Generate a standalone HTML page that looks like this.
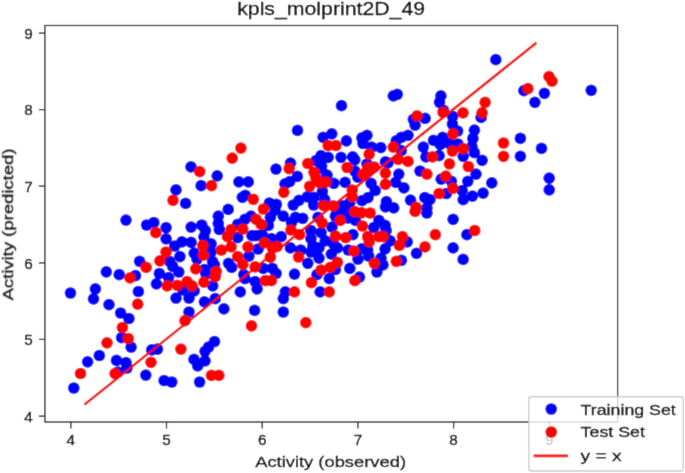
<!DOCTYPE html>
<html><head><meta charset="utf-8">
<style>
html,body{margin:0;padding:0;background:#fff;width:685px;height:473px;overflow:hidden}
svg{display:block}
text{font-family:"Liberation Sans",sans-serif;fill:#000;stroke:#000;stroke-width:0.3px}
svg{will-change:transform}
</style></head>
<body>
<svg width="685" height="473" viewBox="0 0 685 473">
<defs><filter id="sb" filterUnits="userSpaceOnUse" x="0" y="0" width="685" height="473"><feConvolveMatrix order="3" kernelMatrix="1 7.4 1 7.4 54.6 7.4 1 7.4 1" divisor="88.2" edgeMode="duplicate" preserveAlpha="true"/></filter></defs>
<g filter="url(#sb)">
<rect x="0" y="0" width="685" height="473" fill="#fff"/>
<g id="dots">
<circle cx="341.5" cy="105.7" r="5.85" fill="#0000ff"/>
<circle cx="393.3" cy="95.9" r="5.85" fill="#0000ff"/>
<circle cx="397.3" cy="94.3" r="5.85" fill="#0000ff"/>
<circle cx="440.9" cy="95.9" r="5.85" fill="#0000ff"/>
<circle cx="439.5" cy="102.3" r="5.85" fill="#0000ff"/>
<circle cx="443.5" cy="110.4" r="5.85" fill="#0000ff"/>
<circle cx="452.6" cy="116.4" r="5.85" fill="#0000ff"/>
<circle cx="413.4" cy="119.4" r="5.85" fill="#0000ff"/>
<circle cx="425.1" cy="118.4" r="5.85" fill="#0000ff"/>
<circle cx="495.8" cy="59.7" r="5.85" fill="#0000ff"/>
<circle cx="523.9" cy="90.7" r="5.85" fill="#0000ff"/>
<circle cx="544.4" cy="93.3" r="5.85" fill="#0000ff"/>
<circle cx="534.9" cy="102.3" r="5.85" fill="#0000ff"/>
<circle cx="591.2" cy="90.3" r="5.85" fill="#0000ff"/>
<circle cx="481.1" cy="117.4" r="5.85" fill="#0000ff"/>
<circle cx="176.0" cy="189.9" r="5.85" fill="#0000ff"/>
<circle cx="297.5" cy="130.4" r="5.85" fill="#0000ff"/>
<circle cx="191.0" cy="166.8" r="5.85" fill="#0000ff"/>
<circle cx="217.2" cy="175.8" r="5.85" fill="#0000ff"/>
<circle cx="201.1" cy="185.7" r="5.85" fill="#0000ff"/>
<circle cx="238.9" cy="181.9" r="5.85" fill="#0000ff"/>
<circle cx="248.3" cy="181.9" r="5.85" fill="#0000ff"/>
<circle cx="276.0" cy="169.2" r="5.85" fill="#0000ff"/>
<circle cx="290.5" cy="163.2" r="5.85" fill="#0000ff"/>
<circle cx="242.3" cy="197.3" r="5.85" fill="#0000ff"/>
<circle cx="245.3" cy="195.3" r="5.85" fill="#0000ff"/>
<circle cx="185.6" cy="203.4" r="5.85" fill="#0000ff"/>
<circle cx="228.2" cy="209.4" r="5.85" fill="#0000ff"/>
<circle cx="269.4" cy="203.0" r="5.85" fill="#0000ff"/>
<circle cx="276.4" cy="204.4" r="5.85" fill="#0000ff"/>
<circle cx="297.3" cy="176.4" r="5.85" fill="#0000ff"/>
<circle cx="289.7" cy="181.6" r="5.85" fill="#0000ff"/>
<circle cx="285.0" cy="183.9" r="5.85" fill="#0000ff"/>
<circle cx="321.2" cy="168.2" r="5.85" fill="#0000ff"/>
<circle cx="327.0" cy="175.2" r="5.85" fill="#0000ff"/>
<circle cx="322.4" cy="191.5" r="5.85" fill="#0000ff"/>
<circle cx="324.7" cy="199.7" r="5.85" fill="#0000ff"/>
<circle cx="293.2" cy="205.0" r="5.85" fill="#0000ff"/>
<circle cx="299.0" cy="200.3" r="5.85" fill="#0000ff"/>
<circle cx="307.2" cy="196.8" r="5.85" fill="#0000ff"/>
<circle cx="313.6" cy="197.4" r="5.85" fill="#0000ff"/>
<circle cx="313.6" cy="205.0" r="5.85" fill="#0000ff"/>
<circle cx="275.1" cy="210.2" r="5.85" fill="#0000ff"/>
<circle cx="316.0" cy="160.5" r="5.85" fill="#0000ff"/>
<circle cx="331.8" cy="133.8" r="5.85" fill="#0000ff"/>
<circle cx="323.1" cy="137.3" r="5.85" fill="#0000ff"/>
<circle cx="346.4" cy="140.9" r="5.85" fill="#0000ff"/>
<circle cx="367.0" cy="135.3" r="5.85" fill="#0000ff"/>
<circle cx="361.9" cy="137.9" r="5.85" fill="#0000ff"/>
<circle cx="363.0" cy="143.5" r="5.85" fill="#0000ff"/>
<circle cx="371.6" cy="147.1" r="5.85" fill="#0000ff"/>
<circle cx="380.8" cy="147.6" r="5.85" fill="#0000ff"/>
<circle cx="321.0" cy="155.7" r="5.85" fill="#0000ff"/>
<circle cx="328.2" cy="157.3" r="5.85" fill="#0000ff"/>
<circle cx="341.0" cy="157.3" r="5.85" fill="#0000ff"/>
<circle cx="352.7" cy="156.8" r="5.85" fill="#0000ff"/>
<circle cx="354.8" cy="159.8" r="5.85" fill="#0000ff"/>
<circle cx="321.6" cy="166.0" r="5.85" fill="#0000ff"/>
<circle cx="367.0" cy="164.0" r="5.85" fill="#0000ff"/>
<circle cx="385.4" cy="161.9" r="5.85" fill="#0000ff"/>
<circle cx="415.1" cy="125.1" r="5.85" fill="#0000ff"/>
<circle cx="408.0" cy="135.3" r="5.85" fill="#0000ff"/>
<circle cx="401.3" cy="137.3" r="5.85" fill="#0000ff"/>
<circle cx="396.2" cy="140.9" r="5.85" fill="#0000ff"/>
<circle cx="401.3" cy="150.6" r="5.85" fill="#0000ff"/>
<circle cx="388.0" cy="162.9" r="5.85" fill="#0000ff"/>
<circle cx="423.3" cy="147.1" r="5.85" fill="#0000ff"/>
<circle cx="433.5" cy="140.4" r="5.85" fill="#0000ff"/>
<circle cx="442.7" cy="137.3" r="5.85" fill="#0000ff"/>
<circle cx="440.2" cy="144.5" r="5.85" fill="#0000ff"/>
<circle cx="425.9" cy="156.8" r="5.85" fill="#0000ff"/>
<circle cx="439.1" cy="155.7" r="5.85" fill="#0000ff"/>
<circle cx="452.4" cy="124.0" r="5.85" fill="#0000ff"/>
<circle cx="449.4" cy="143.5" r="5.85" fill="#0000ff"/>
<circle cx="333.8" cy="183.3" r="5.85" fill="#0000ff"/>
<circle cx="345.1" cy="182.3" r="5.85" fill="#0000ff"/>
<circle cx="354.8" cy="171.0" r="5.85" fill="#0000ff"/>
<circle cx="357.8" cy="177.2" r="5.85" fill="#0000ff"/>
<circle cx="371.1" cy="183.3" r="5.85" fill="#0000ff"/>
<circle cx="375.2" cy="190.5" r="5.85" fill="#0000ff"/>
<circle cx="368.0" cy="197.6" r="5.85" fill="#0000ff"/>
<circle cx="362.0" cy="200.7" r="5.85" fill="#0000ff"/>
<circle cx="386.4" cy="201.7" r="5.85" fill="#0000ff"/>
<circle cx="385.4" cy="206.8" r="5.85" fill="#0000ff"/>
<circle cx="342.5" cy="205.8" r="5.85" fill="#0000ff"/>
<circle cx="349.7" cy="202.7" r="5.85" fill="#0000ff"/>
<circle cx="336.4" cy="214.0" r="5.85" fill="#0000ff"/>
<circle cx="345.6" cy="212.0" r="5.85" fill="#0000ff"/>
<circle cx="398.8" cy="174.1" r="5.85" fill="#0000ff"/>
<circle cx="395.7" cy="182.3" r="5.85" fill="#0000ff"/>
<circle cx="403.9" cy="187.9" r="5.85" fill="#0000ff"/>
<circle cx="420.0" cy="171.0" r="5.85" fill="#0000ff"/>
<circle cx="441.2" cy="179.2" r="5.85" fill="#0000ff"/>
<circle cx="451.4" cy="181.3" r="5.85" fill="#0000ff"/>
<circle cx="446.3" cy="193.5" r="5.85" fill="#0000ff"/>
<circle cx="393.7" cy="207.9" r="5.85" fill="#0000ff"/>
<circle cx="410.5" cy="200.2" r="5.85" fill="#0000ff"/>
<circle cx="424.8" cy="197.6" r="5.85" fill="#0000ff"/>
<circle cx="429.9" cy="199.7" r="5.85" fill="#0000ff"/>
<circle cx="426.9" cy="207.9" r="5.85" fill="#0000ff"/>
<circle cx="426.9" cy="213.0" r="5.85" fill="#0000ff"/>
<circle cx="474.4" cy="130.2" r="5.85" fill="#0000ff"/>
<circle cx="472.9" cy="138.4" r="5.85" fill="#0000ff"/>
<circle cx="458.0" cy="144.0" r="5.85" fill="#0000ff"/>
<circle cx="471.9" cy="146.5" r="5.85" fill="#0000ff"/>
<circle cx="474.4" cy="152.7" r="5.85" fill="#0000ff"/>
<circle cx="463.2" cy="156.3" r="5.85" fill="#0000ff"/>
<circle cx="482.1" cy="160.3" r="5.85" fill="#0000ff"/>
<circle cx="520.4" cy="138.4" r="5.85" fill="#0000ff"/>
<circle cx="520.4" cy="156.3" r="5.85" fill="#0000ff"/>
<circle cx="541.5" cy="148.4" r="5.85" fill="#0000ff"/>
<circle cx="476.0" cy="174.2" r="5.85" fill="#0000ff"/>
<circle cx="467.8" cy="181.3" r="5.85" fill="#0000ff"/>
<circle cx="491.8" cy="182.9" r="5.85" fill="#0000ff"/>
<circle cx="462.2" cy="190.5" r="5.85" fill="#0000ff"/>
<circle cx="472.4" cy="196.1" r="5.85" fill="#0000ff"/>
<circle cx="463.2" cy="199.7" r="5.85" fill="#0000ff"/>
<circle cx="483.1" cy="193.1" r="5.85" fill="#0000ff"/>
<circle cx="549.2" cy="178.2" r="5.85" fill="#0000ff"/>
<circle cx="549.2" cy="189.9" r="5.85" fill="#0000ff"/>
<circle cx="126.0" cy="220.1" r="5.85" fill="#0000ff"/>
<circle cx="139.6" cy="261.3" r="5.85" fill="#0000ff"/>
<circle cx="146.6" cy="225.0" r="5.85" fill="#0000ff"/>
<circle cx="153.8" cy="222.5" r="5.85" fill="#0000ff"/>
<circle cx="166.1" cy="227.6" r="5.85" fill="#0000ff"/>
<circle cx="166.1" cy="238.8" r="5.85" fill="#0000ff"/>
<circle cx="191.1" cy="227.1" r="5.85" fill="#0000ff"/>
<circle cx="201.8" cy="225.0" r="5.85" fill="#0000ff"/>
<circle cx="205.4" cy="230.7" r="5.85" fill="#0000ff"/>
<circle cx="203.9" cy="236.8" r="5.85" fill="#0000ff"/>
<circle cx="174.7" cy="246.0" r="5.85" fill="#0000ff"/>
<circle cx="181.9" cy="241.9" r="5.85" fill="#0000ff"/>
<circle cx="191.1" cy="242.4" r="5.85" fill="#0000ff"/>
<circle cx="218.3" cy="216.2" r="5.85" fill="#0000ff"/>
<circle cx="218.3" cy="223.4" r="5.85" fill="#0000ff"/>
<circle cx="219.3" cy="229.5" r="5.85" fill="#0000ff"/>
<circle cx="237.7" cy="237.7" r="5.85" fill="#0000ff"/>
<circle cx="237.7" cy="224.4" r="5.85" fill="#0000ff"/>
<circle cx="244.9" cy="219.3" r="5.85" fill="#0000ff"/>
<circle cx="251.0" cy="216.2" r="5.85" fill="#0000ff"/>
<circle cx="268.4" cy="225.4" r="5.85" fill="#0000ff"/>
<circle cx="270.4" cy="217.3" r="5.85" fill="#0000ff"/>
<circle cx="256.1" cy="235.7" r="5.85" fill="#0000ff"/>
<circle cx="252.0" cy="235.7" r="5.85" fill="#0000ff"/>
<circle cx="262.2" cy="234.6" r="5.85" fill="#0000ff"/>
<circle cx="271.4" cy="238.7" r="5.85" fill="#0000ff"/>
<circle cx="211.1" cy="243.8" r="5.85" fill="#0000ff"/>
<circle cx="258.1" cy="249.0" r="5.85" fill="#0000ff"/>
<circle cx="283.3" cy="216.2" r="5.85" fill="#0000ff"/>
<circle cx="295.5" cy="217.3" r="5.85" fill="#0000ff"/>
<circle cx="302.7" cy="218.3" r="5.85" fill="#0000ff"/>
<circle cx="318.0" cy="217.3" r="5.85" fill="#0000ff"/>
<circle cx="335.4" cy="216.2" r="5.85" fill="#0000ff"/>
<circle cx="291.5" cy="222.4" r="5.85" fill="#0000ff"/>
<circle cx="310.9" cy="230.5" r="5.85" fill="#0000ff"/>
<circle cx="310.9" cy="238.7" r="5.85" fill="#0000ff"/>
<circle cx="321.1" cy="232.6" r="5.85" fill="#0000ff"/>
<circle cx="325.2" cy="240.8" r="5.85" fill="#0000ff"/>
<circle cx="333.4" cy="243.8" r="5.85" fill="#0000ff"/>
<circle cx="281.2" cy="236.7" r="5.85" fill="#0000ff"/>
<circle cx="290.4" cy="247.9" r="5.85" fill="#0000ff"/>
<circle cx="300.7" cy="250.0" r="5.85" fill="#0000ff"/>
<circle cx="312.9" cy="245.9" r="5.85" fill="#0000ff"/>
<circle cx="319.0" cy="247.9" r="5.85" fill="#0000ff"/>
<circle cx="337.4" cy="247.9" r="5.85" fill="#0000ff"/>
<circle cx="348.0" cy="218.0" r="5.85" fill="#0000ff"/>
<circle cx="355.4" cy="220.3" r="5.85" fill="#0000ff"/>
<circle cx="378.9" cy="220.3" r="5.85" fill="#0000ff"/>
<circle cx="385.1" cy="225.4" r="5.85" fill="#0000ff"/>
<circle cx="373.8" cy="227.5" r="5.85" fill="#0000ff"/>
<circle cx="386.1" cy="230.5" r="5.85" fill="#0000ff"/>
<circle cx="352.9" cy="234.6" r="5.85" fill="#0000ff"/>
<circle cx="390.2" cy="240.8" r="5.85" fill="#0000ff"/>
<circle cx="348.3" cy="250.0" r="5.85" fill="#0000ff"/>
<circle cx="361.6" cy="248.9" r="5.85" fill="#0000ff"/>
<circle cx="367.7" cy="250.0" r="5.85" fill="#0000ff"/>
<circle cx="385.1" cy="248.9" r="5.85" fill="#0000ff"/>
<circle cx="453.1" cy="219.3" r="5.85" fill="#0000ff"/>
<circle cx="407.2" cy="241.8" r="5.85" fill="#0000ff"/>
<circle cx="416.5" cy="253.3" r="5.85" fill="#0000ff"/>
<circle cx="453.1" cy="247.9" r="5.85" fill="#0000ff"/>
<circle cx="466.9" cy="234.6" r="5.85" fill="#0000ff"/>
<circle cx="106.3" cy="271.8" r="5.85" fill="#0000ff"/>
<circle cx="119.2" cy="274.7" r="5.85" fill="#0000ff"/>
<circle cx="135.5" cy="275.7" r="5.85" fill="#0000ff"/>
<circle cx="70.5" cy="293.0" r="5.85" fill="#0000ff"/>
<circle cx="95.4" cy="288.9" r="5.85" fill="#0000ff"/>
<circle cx="93.5" cy="298.8" r="5.85" fill="#0000ff"/>
<circle cx="109.0" cy="304.6" r="5.85" fill="#0000ff"/>
<circle cx="138.4" cy="291.5" r="5.85" fill="#0000ff"/>
<circle cx="120.6" cy="313.0" r="5.85" fill="#0000ff"/>
<circle cx="179.9" cy="256.7" r="5.85" fill="#0000ff"/>
<circle cx="169.6" cy="261.3" r="5.85" fill="#0000ff"/>
<circle cx="172.7" cy="266.4" r="5.85" fill="#0000ff"/>
<circle cx="159.4" cy="273.5" r="5.85" fill="#0000ff"/>
<circle cx="178.8" cy="272.0" r="5.85" fill="#0000ff"/>
<circle cx="156.4" cy="283.8" r="5.85" fill="#0000ff"/>
<circle cx="168.6" cy="277.6" r="5.85" fill="#0000ff"/>
<circle cx="182.9" cy="289.9" r="5.85" fill="#0000ff"/>
<circle cx="194.2" cy="253.1" r="5.85" fill="#0000ff"/>
<circle cx="204.4" cy="269.5" r="5.85" fill="#0000ff"/>
<circle cx="194.2" cy="290.9" r="5.85" fill="#0000ff"/>
<circle cx="211.0" cy="252.0" r="5.85" fill="#0000ff"/>
<circle cx="228.5" cy="263.3" r="5.85" fill="#0000ff"/>
<circle cx="231.6" cy="267.4" r="5.85" fill="#0000ff"/>
<circle cx="248.9" cy="256.2" r="5.85" fill="#0000ff"/>
<circle cx="263.2" cy="268.4" r="5.85" fill="#0000ff"/>
<circle cx="243.8" cy="274.6" r="5.85" fill="#0000ff"/>
<circle cx="244.9" cy="278.7" r="5.85" fill="#0000ff"/>
<circle cx="212.7" cy="285.8" r="5.85" fill="#0000ff"/>
<circle cx="255.1" cy="281.7" r="5.85" fill="#0000ff"/>
<circle cx="257.1" cy="288.9" r="5.85" fill="#0000ff"/>
<circle cx="272.4" cy="268.4" r="5.85" fill="#0000ff"/>
<circle cx="240.3" cy="291.9" r="5.85" fill="#0000ff"/>
<circle cx="307.8" cy="263.3" r="5.85" fill="#0000ff"/>
<circle cx="311.0" cy="252.0" r="5.85" fill="#0000ff"/>
<circle cx="319.0" cy="258.2" r="5.85" fill="#0000ff"/>
<circle cx="331.3" cy="254.1" r="5.85" fill="#0000ff"/>
<circle cx="317.0" cy="274.6" r="5.85" fill="#0000ff"/>
<circle cx="335.4" cy="269.5" r="5.85" fill="#0000ff"/>
<circle cx="329.3" cy="278.7" r="5.85" fill="#0000ff"/>
<circle cx="276.1" cy="273.5" r="5.85" fill="#0000ff"/>
<circle cx="294.5" cy="274.1" r="5.85" fill="#0000ff"/>
<circle cx="285.3" cy="291.9" r="5.85" fill="#0000ff"/>
<circle cx="320.1" cy="291.9" r="5.85" fill="#0000ff"/>
<circle cx="358.0" cy="259.2" r="5.85" fill="#0000ff"/>
<circle cx="368.7" cy="256.0" r="5.85" fill="#0000ff"/>
<circle cx="349.8" cy="268.4" r="5.85" fill="#0000ff"/>
<circle cx="359.5" cy="277.1" r="5.85" fill="#0000ff"/>
<circle cx="381.0" cy="258.2" r="5.85" fill="#0000ff"/>
<circle cx="383.0" cy="264.9" r="5.85" fill="#0000ff"/>
<circle cx="376.9" cy="272.0" r="5.85" fill="#0000ff"/>
<circle cx="401.4" cy="260.3" r="5.85" fill="#0000ff"/>
<circle cx="463.1" cy="259.4" r="5.85" fill="#0000ff"/>
<circle cx="128.9" cy="318.5" r="5.85" fill="#0000ff"/>
<circle cx="121.6" cy="337.7" r="5.85" fill="#0000ff"/>
<circle cx="131.1" cy="347.2" r="5.85" fill="#0000ff"/>
<circle cx="99.3" cy="355.5" r="5.85" fill="#0000ff"/>
<circle cx="87.6" cy="361.8" r="5.85" fill="#0000ff"/>
<circle cx="116.5" cy="360.4" r="5.85" fill="#0000ff"/>
<circle cx="126.0" cy="362.6" r="5.85" fill="#0000ff"/>
<circle cx="118.0" cy="372.0" r="5.85" fill="#0000ff"/>
<circle cx="127.0" cy="368.0" r="5.85" fill="#0000ff"/>
<circle cx="73.8" cy="388.0" r="5.85" fill="#0000ff"/>
<circle cx="176.0" cy="298.2" r="5.85" fill="#0000ff"/>
<circle cx="189.0" cy="298.2" r="5.85" fill="#0000ff"/>
<circle cx="204.4" cy="301.8" r="5.85" fill="#0000ff"/>
<circle cx="189.0" cy="312.0" r="5.85" fill="#0000ff"/>
<circle cx="151.7" cy="349.9" r="5.85" fill="#0000ff"/>
<circle cx="157.5" cy="349.1" r="5.85" fill="#0000ff"/>
<circle cx="145.8" cy="375.1" r="5.85" fill="#0000ff"/>
<circle cx="164.1" cy="380.5" r="5.85" fill="#0000ff"/>
<circle cx="171.8" cy="382.0" r="5.85" fill="#0000ff"/>
<circle cx="214.5" cy="341.5" r="5.85" fill="#0000ff"/>
<circle cx="208.6" cy="347.0" r="5.85" fill="#0000ff"/>
<circle cx="205.0" cy="351.3" r="5.85" fill="#0000ff"/>
<circle cx="194.0" cy="359.4" r="5.85" fill="#0000ff"/>
<circle cx="205.0" cy="360.8" r="5.85" fill="#0000ff"/>
<circle cx="197.7" cy="365.9" r="5.85" fill="#0000ff"/>
<circle cx="199.6" cy="382.0" r="5.85" fill="#0000ff"/>
<circle cx="215.2" cy="298.7" r="5.85" fill="#0000ff"/>
<circle cx="223.9" cy="308.9" r="5.85" fill="#0000ff"/>
<circle cx="254.6" cy="310.4" r="5.85" fill="#0000ff"/>
<circle cx="283.3" cy="298.7" r="5.85" fill="#0000ff"/>
<circle cx="283.3" cy="312.0" r="5.85" fill="#0000ff"/>
<circle cx="212.5" cy="261.5" r="5.85" fill="#0000ff"/>
<circle cx="197.0" cy="259.0" r="5.85" fill="#0000ff"/>
<circle cx="206.0" cy="274.0" r="5.85" fill="#0000ff"/>
<circle cx="214.5" cy="265.0" r="5.85" fill="#0000ff"/>
<circle cx="457.6" cy="131.0" r="5.85" fill="#0000ff"/>
<circle cx="332.0" cy="227.0" r="5.85" fill="#0000ff"/>
<circle cx="443.1" cy="112.4" r="5.85" fill="#ff0000"/>
<circle cx="417.0" cy="115.8" r="5.85" fill="#ff0000"/>
<circle cx="549.0" cy="76.6" r="5.85" fill="#ff0000"/>
<circle cx="552.0" cy="81.2" r="5.85" fill="#ff0000"/>
<circle cx="527.9" cy="88.7" r="5.85" fill="#ff0000"/>
<circle cx="485.1" cy="102.3" r="5.85" fill="#ff0000"/>
<circle cx="482.1" cy="112.8" r="5.85" fill="#ff0000"/>
<circle cx="463.0" cy="112.8" r="5.85" fill="#ff0000"/>
<circle cx="173.0" cy="200.3" r="5.85" fill="#ff0000"/>
<circle cx="240.9" cy="148.1" r="5.85" fill="#ff0000"/>
<circle cx="232.2" cy="158.2" r="5.85" fill="#ff0000"/>
<circle cx="199.7" cy="171.6" r="5.85" fill="#ff0000"/>
<circle cx="211.5" cy="185.7" r="5.85" fill="#ff0000"/>
<circle cx="289.1" cy="168.6" r="5.85" fill="#ff0000"/>
<circle cx="283.8" cy="192.3" r="5.85" fill="#ff0000"/>
<circle cx="253.3" cy="199.3" r="5.85" fill="#ff0000"/>
<circle cx="263.4" cy="209.0" r="5.85" fill="#ff0000"/>
<circle cx="307.8" cy="163.5" r="5.85" fill="#ff0000"/>
<circle cx="314.0" cy="172.3" r="5.85" fill="#ff0000"/>
<circle cx="316.0" cy="178.0" r="5.85" fill="#ff0000"/>
<circle cx="309.6" cy="186.3" r="5.85" fill="#ff0000"/>
<circle cx="320.0" cy="182.8" r="5.85" fill="#ff0000"/>
<circle cx="325.9" cy="182.2" r="5.85" fill="#ff0000"/>
<circle cx="323.6" cy="205.5" r="5.85" fill="#ff0000"/>
<circle cx="328.2" cy="145.5" r="5.85" fill="#ff0000"/>
<circle cx="335.9" cy="145.5" r="5.85" fill="#ff0000"/>
<circle cx="369.1" cy="154.2" r="5.85" fill="#ff0000"/>
<circle cx="347.1" cy="167.5" r="5.85" fill="#ff0000"/>
<circle cx="368.0" cy="167.5" r="5.85" fill="#ff0000"/>
<circle cx="374.2" cy="167.0" r="5.85" fill="#ff0000"/>
<circle cx="393.2" cy="147.1" r="5.85" fill="#ff0000"/>
<circle cx="398.3" cy="159.3" r="5.85" fill="#ff0000"/>
<circle cx="408.0" cy="161.4" r="5.85" fill="#ff0000"/>
<circle cx="432.5" cy="156.8" r="5.85" fill="#ff0000"/>
<circle cx="452.9" cy="133.8" r="5.85" fill="#ff0000"/>
<circle cx="452.4" cy="151.1" r="5.85" fill="#ff0000"/>
<circle cx="449.4" cy="163.9" r="5.85" fill="#ff0000"/>
<circle cx="352.2" cy="190.0" r="5.85" fill="#ff0000"/>
<circle cx="352.2" cy="196.6" r="5.85" fill="#ff0000"/>
<circle cx="363.0" cy="174.1" r="5.85" fill="#ff0000"/>
<circle cx="385.4" cy="173.1" r="5.85" fill="#ff0000"/>
<circle cx="385.4" cy="184.3" r="5.85" fill="#ff0000"/>
<circle cx="333.3" cy="205.8" r="5.85" fill="#ff0000"/>
<circle cx="354.8" cy="211.5" r="5.85" fill="#ff0000"/>
<circle cx="361.6" cy="212.8" r="5.85" fill="#ff0000"/>
<circle cx="370.1" cy="213.0" r="5.85" fill="#ff0000"/>
<circle cx="426.9" cy="174.1" r="5.85" fill="#ff0000"/>
<circle cx="445.8" cy="176.2" r="5.85" fill="#ff0000"/>
<circle cx="452.9" cy="188.4" r="5.85" fill="#ff0000"/>
<circle cx="439.1" cy="193.5" r="5.85" fill="#ff0000"/>
<circle cx="416.1" cy="207.3" r="5.85" fill="#ff0000"/>
<circle cx="415.1" cy="211.4" r="5.85" fill="#ff0000"/>
<circle cx="463.2" cy="148.6" r="5.85" fill="#ff0000"/>
<circle cx="468.3" cy="166.5" r="5.85" fill="#ff0000"/>
<circle cx="503.5" cy="143.0" r="5.85" fill="#ff0000"/>
<circle cx="503.5" cy="156.3" r="5.85" fill="#ff0000"/>
<circle cx="155.8" cy="232.7" r="5.85" fill="#ff0000"/>
<circle cx="202.8" cy="245.5" r="5.85" fill="#ff0000"/>
<circle cx="231.1" cy="229.5" r="5.85" fill="#ff0000"/>
<circle cx="227.5" cy="236.7" r="5.85" fill="#ff0000"/>
<circle cx="242.8" cy="229.0" r="5.85" fill="#ff0000"/>
<circle cx="256.1" cy="219.3" r="5.85" fill="#ff0000"/>
<circle cx="261.2" cy="224.4" r="5.85" fill="#ff0000"/>
<circle cx="264.3" cy="242.8" r="5.85" fill="#ff0000"/>
<circle cx="247.9" cy="246.9" r="5.85" fill="#ff0000"/>
<circle cx="231.1" cy="246.9" r="5.85" fill="#ff0000"/>
<circle cx="221.4" cy="250.0" r="5.85" fill="#ff0000"/>
<circle cx="272.4" cy="247.9" r="5.85" fill="#ff0000"/>
<circle cx="340.2" cy="220.4" r="5.85" fill="#ff0000"/>
<circle cx="322.1" cy="222.9" r="5.85" fill="#ff0000"/>
<circle cx="291.0" cy="230.0" r="5.85" fill="#ff0000"/>
<circle cx="299.6" cy="234.6" r="5.85" fill="#ff0000"/>
<circle cx="335.4" cy="236.2" r="5.85" fill="#ff0000"/>
<circle cx="277.0" cy="246.5" r="5.85" fill="#ff0000"/>
<circle cx="362.4" cy="226.0" r="5.85" fill="#ff0000"/>
<circle cx="367.7" cy="236.7" r="5.85" fill="#ff0000"/>
<circle cx="369.2" cy="241.8" r="5.85" fill="#ff0000"/>
<circle cx="378.9" cy="236.7" r="5.85" fill="#ff0000"/>
<circle cx="383.0" cy="236.7" r="5.85" fill="#ff0000"/>
<circle cx="345.7" cy="237.7" r="5.85" fill="#ff0000"/>
<circle cx="402.4" cy="236.7" r="5.85" fill="#ff0000"/>
<circle cx="399.4" cy="245.4" r="5.85" fill="#ff0000"/>
<circle cx="353.9" cy="251.0" r="5.85" fill="#ff0000"/>
<circle cx="435.3" cy="234.6" r="5.85" fill="#ff0000"/>
<circle cx="425.0" cy="246.9" r="5.85" fill="#ff0000"/>
<circle cx="474.7" cy="230.5" r="5.85" fill="#ff0000"/>
<circle cx="130.0" cy="277.9" r="5.85" fill="#ff0000"/>
<circle cx="137.7" cy="304.2" r="5.85" fill="#ff0000"/>
<circle cx="166.0" cy="252.0" r="5.85" fill="#ff0000"/>
<circle cx="159.9" cy="260.8" r="5.85" fill="#ff0000"/>
<circle cx="146.1" cy="267.4" r="5.85" fill="#ff0000"/>
<circle cx="167.1" cy="285.8" r="5.85" fill="#ff0000"/>
<circle cx="177.3" cy="285.3" r="5.85" fill="#ff0000"/>
<circle cx="187.0" cy="281.7" r="5.85" fill="#ff0000"/>
<circle cx="192.1" cy="285.8" r="5.85" fill="#ff0000"/>
<circle cx="195.7" cy="268.9" r="5.85" fill="#ff0000"/>
<circle cx="203.4" cy="255.2" r="5.85" fill="#ff0000"/>
<circle cx="203.9" cy="282.2" r="5.85" fill="#ff0000"/>
<circle cx="237.7" cy="256.7" r="5.85" fill="#ff0000"/>
<circle cx="242.8" cy="264.4" r="5.85" fill="#ff0000"/>
<circle cx="270.4" cy="257.2" r="5.85" fill="#ff0000"/>
<circle cx="255.1" cy="266.9" r="5.85" fill="#ff0000"/>
<circle cx="216.2" cy="271.5" r="5.85" fill="#ff0000"/>
<circle cx="215.2" cy="276.6" r="5.85" fill="#ff0000"/>
<circle cx="265.3" cy="280.7" r="5.85" fill="#ff0000"/>
<circle cx="271.4" cy="280.7" r="5.85" fill="#ff0000"/>
<circle cx="298.6" cy="257.0" r="5.85" fill="#ff0000"/>
<circle cx="337.4" cy="262.3" r="5.85" fill="#ff0000"/>
<circle cx="330.3" cy="267.4" r="5.85" fill="#ff0000"/>
<circle cx="321.1" cy="270.0" r="5.85" fill="#ff0000"/>
<circle cx="311.4" cy="282.7" r="5.85" fill="#ff0000"/>
<circle cx="294.5" cy="291.9" r="5.85" fill="#ff0000"/>
<circle cx="329.3" cy="291.9" r="5.85" fill="#ff0000"/>
<circle cx="354.9" cy="280.7" r="5.85" fill="#ff0000"/>
<circle cx="374.3" cy="263.3" r="5.85" fill="#ff0000"/>
<circle cx="396.3" cy="261.3" r="5.85" fill="#ff0000"/>
<circle cx="122.4" cy="327.5" r="5.85" fill="#ff0000"/>
<circle cx="128.2" cy="338.5" r="5.85" fill="#ff0000"/>
<circle cx="107.0" cy="342.8" r="5.85" fill="#ff0000"/>
<circle cx="80.5" cy="373.5" r="5.85" fill="#ff0000"/>
<circle cx="115.1" cy="373.5" r="5.85" fill="#ff0000"/>
<circle cx="185.0" cy="320.7" r="5.85" fill="#ff0000"/>
<circle cx="151.0" cy="362.3" r="5.85" fill="#ff0000"/>
<circle cx="180.9" cy="349.1" r="5.85" fill="#ff0000"/>
<circle cx="211.5" cy="375.4" r="5.85" fill="#ff0000"/>
<circle cx="218.8" cy="375.4" r="5.85" fill="#ff0000"/>
<circle cx="251.5" cy="325.8" r="5.85" fill="#ff0000"/>
<circle cx="305.8" cy="322.7" r="5.85" fill="#ff0000"/>
<circle cx="367.5" cy="172.0" r="5.85" fill="#ff0000"/>
</g>
<line x1="85.3" y1="403.85" x2="535.5" y2="43.45" stroke="#ff0000" stroke-width="2.4" stroke-linecap="square"/>
<g stroke="#111" stroke-width="1.25" fill="none">
<rect x="44.9" y="25.5" width="572.7" height="396.5"/>
<path d="M70.8 422v6.5M166.5 422v6.5M262.2 422v6.5M357.9 422v6.5M453.6 422v6.5M549.3 422v6.5"/>
<path d="M44.9 33h-6M44.9 109.6h-6M44.9 186.2h-6M44.9 262.8h-6M44.9 339.4h-6M44.9 416h-6"/>
</g>
<g font-size="15.3" text-anchor="middle">
<text x="70.8" y="444.8">4</text>
<text x="166.5" y="444.8">5</text>
<text x="262.2" y="444.8">6</text>
<text x="357.9" y="444.8">7</text>
<text x="453.6" y="444.8">8</text>
<text x="549.3" y="444.8">9</text>
</g>
<g font-size="15.3" text-anchor="end">
<text x="32.8" y="38.8">9</text>
<text x="32.8" y="115.4">8</text>
<text x="32.8" y="192.0">7</text>
<text x="32.8" y="268.6">6</text>
<text x="32.8" y="345.2">5</text>
<text x="32.8" y="421.8">4</text>
</g>
<text x="255.2" y="467.3" font-size="15.3" textLength="150.8" lengthAdjust="spacingAndGlyphs">Activity (observed)</text>
<text transform="translate(13.1,300.4) rotate(-90)" font-size="15.3" textLength="151.9" lengthAdjust="spacingAndGlyphs">Activity (predicted)</text>
<text x="237.2" y="15.3" font-size="18.5" textLength="187.9" lengthAdjust="spacingAndGlyphs">kpls_molprint2D_49</text>
<g>
<rect x="528.8" y="396.7" width="154.4" height="74.3" rx="2.5" ry="2.5" fill="rgba(255,255,255,0.8)" stroke="rgba(200,200,200,0.9)" stroke-width="1.4"/>
<circle cx="551.2" cy="409" r="5.85" fill="#0000ff"/>
<circle cx="551.2" cy="432" r="5.85" fill="#ff0000"/>
<line x1="535" y1="455.8" x2="566.7" y2="455.8" stroke="#ff0000" stroke-width="2.7" stroke-linecap="square"/>
<g font-size="15.3">
<text x="580.6" y="414.9" textLength="95.2" lengthAdjust="spacingAndGlyphs">Training Set</text>
<text x="580.6" y="437.3" textLength="64.3" lengthAdjust="spacingAndGlyphs">Test Set</text>
<text x="580.6" y="460.6" textLength="41" lengthAdjust="spacingAndGlyphs">y = x</text>
</g>
</g>
</g>
</svg>
</body></html>
